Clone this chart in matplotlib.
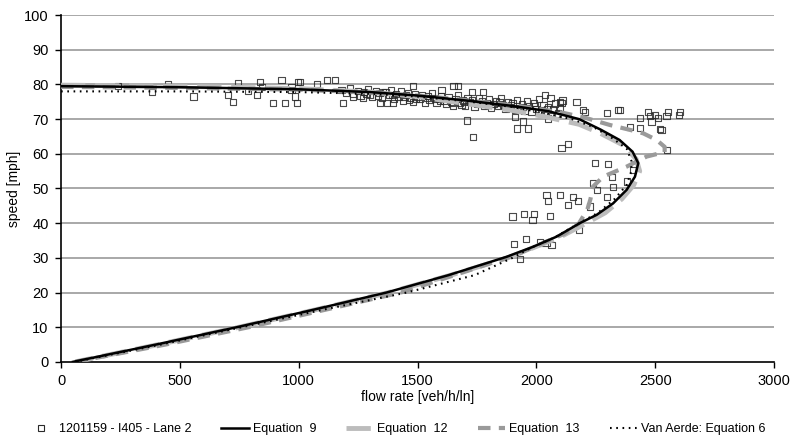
import numpy as np
import matplotlib
matplotlib.use("Agg")
import matplotlib.pyplot as plt
from matplotlib.lines import Line2D

plt.rcParams['font.family'] = ['Liberation Sans', 'DejaVu Sans']

# observed detector data (flow veh/h/ln, speed mph)
obs_flow = [241, 382, 451, 557, 704, 725, 746, 788, 823, 837, 844, 893, 942, 928, 970,
            998, 984, 992, 1005, 1076, 1118, 1153, 970, 1188, 1272, 1342, 1370, 1482,
            1651, 1672, 1601, 1728, 1777, 1230, 1398,
            1180, 1200, 1215, 1230, 1250, 1260, 1275, 1290, 1300, 1310, 1325, 1340, 1350,
            1365, 1380, 1390, 1400, 1410, 1420, 1430, 1440, 1450, 1460, 1470, 1480, 1490,
            1500, 1510, 1520, 1530, 1540, 1550, 1560, 1570, 1580, 1590, 1600, 1610, 1620,
            1630, 1640, 1650, 1660, 1670, 1680, 1690, 1700, 1710, 1720, 1730, 1740, 1750,
            1760, 1770, 1780, 1790, 1800, 1810, 1820, 1830, 1840, 1850, 1860, 1870, 1880,
            1890, 1900, 1910, 1920, 1930, 1940, 1950, 1960, 1970, 1980, 1990, 2000, 2010,
            2020, 2030, 2040, 2050, 2060, 2070, 2080, 2090, 2100, 2110,
            1285, 1335, 1395, 1445, 1495, 1545, 1595, 1645, 1695, 1745, 1795, 1845, 1895,
            1945, 1995, 2045, 1355, 1465, 1575, 1685,
            1707, 1735, 1917, 1945, 1966, 1910, 2050, 2036, 2099, 2169, 2106, 2197, 2204,
            2296, 2352, 2345,
            2436, 2471, 2478, 2499, 2513, 2520, 2485, 2436, 2394, 2555, 2548, 2605, 2600,
            2527, 2550,
            2106, 2134, 2247, 2303, 2408, 2317, 2240, 2254, 2296, 2323, 2043, 2050, 2099,
            2155, 2134, 2176, 2225, 1900, 1948, 1991, 1984, 2057, 2179, 1906, 1955, 2064,
            1931, 2015, 2380, 2043]
obs_speed = [79.5, 77.9, 80.1, 76.5, 76.9, 75.0, 80.3, 78.2, 76.9, 80.8, 79.3, 74.7, 74.7, 81.3, 78.4,
             80.8, 76.5, 74.6, 80.8, 80.1, 81.3, 81.3, 79.3, 74.6, 76.0, 74.6, 74.6, 79.5,
             79.5, 79.5, 78.4, 77.9, 77.9, 76.5, 74.6,
             78.5, 77.6, 78.9, 77.2, 78.1, 76.8, 77.9, 78.6, 77.1, 76.4, 78.0, 77.5, 76.2,
             77.8, 76.9, 78.3, 75.8, 77.2, 76.5, 78.0, 75.4, 76.9, 77.6, 76.1, 75.0, 77.3,
             76.4, 75.7, 77.0, 74.8, 76.2, 75.5, 77.4, 76.0, 74.6, 75.8, 76.7, 75.2, 74.3,
             76.3, 75.0, 73.9, 75.7, 76.8, 74.6, 75.4, 73.7, 76.0, 74.9, 75.6, 73.4, 74.3,
             76.2, 75.1, 73.9, 74.7, 75.8, 73.2, 74.4, 75.3, 73.8, 76.0, 74.1, 72.9, 75.0,
             73.6, 74.5, 72.6, 75.6, 73.3, 74.2, 72.4, 75.1, 73.7, 72.1, 74.6, 73.0, 75.8,
             72.5, 74.0, 71.9, 73.4, 76.2, 72.8, 74.5, 71.6, 73.2, 75.4,
             77.4, 76.6, 77.0, 76.3, 75.9, 76.7, 75.4, 74.8, 75.1, 74.6, 74.0, 74.8, 73.9,
             73.5, 73.8, 72.9, 77.9, 75.6, 75.9, 74.2,
             69.6, 64.9, 67.3, 69.3, 67.3, 70.7, 70.2, 76.9, 75.0, 75.0, 74.7, 72.6, 72.1,
             71.7, 72.6, 72.6,
             70.4, 72.1, 70.9, 71.2, 70.4, 67.1, 69.3, 67.5, 67.8, 72.1, 71.0, 72.1, 71.2,
             66.9, 61.1,
             61.6, 62.8, 57.4, 57.0, 55.3, 53.4, 51.5, 49.6, 47.6, 50.5, 48.1, 46.4, 48.1,
             47.6, 45.2, 46.5, 44.8, 41.9, 42.7, 42.7, 40.9, 42.1, 38.0, 34.0, 35.4, 33.7,
             29.6, 34.4, 52.0, 34.2]

# fitted models (flow, speed)
eq9_flow = [0, 500, 1000, 1300, 1500, 1700, 1900, 2050, 2180, 2270, 2350, 2405, 2429,
            2415, 2380, 2323, 2254, 2183, 2085, 1987, 1875, 1630, 1370, 1060, 740, 400, 50]
eq9_speed = [79.5, 79.2, 78.6, 77.8, 76.8, 75.4, 73.8, 72.3, 70.0, 67.0, 64.0, 60.6, 57.3,
             53.4, 49.6, 45.7, 42.4, 40.0, 36.1, 33.2, 30.3, 25, 20, 15, 10, 5, 0]

eq12_flow = [0, 500, 1000, 1300, 1500, 1700, 1900, 2050, 2180, 2270, 2366, 2420, 2435,
             2410, 2360, 2290, 2210, 2100, 1990, 1880, 1640, 1380, 1070, 750, 410, 60]
eq12_speed = [79.8, 79.5, 78.8, 77.8, 76.5, 74.5, 72.5, 70.5, 68.5, 65.9, 62.5, 58.5, 55,
              51, 47, 43, 40, 36, 33, 30, 25, 20, 15, 10, 5, 0]

eq13_flow = [0, 500, 1000, 1300, 1500, 1700, 1900, 2100, 2200, 2310, 2400, 2450, 2506,
             2540, 2540, 2464, 2380, 2281, 2238, 2228, 2215, 2180, 2120, 2020, 1920, 1700,
             1430, 1110, 790, 440, 60]
eq13_speed = [79.3, 79.0, 78.5, 77.7, 76.8, 75.5, 74.0, 72.0, 70.5, 68.3, 66.8, 65.9, 64.0,
              62.0, 60.5, 59.2, 56.3, 53.4, 50.5, 47, 44, 40, 37, 34, 31, 26,
              20, 15, 10, 5, 0]

va_flow = [0, 500, 1000, 1300, 1500, 1700, 1900, 2050, 2150, 2238, 2320, 2380, 2400,
           2400, 2380, 2330, 2260, 2180, 2080, 1980, 1900, 1740, 1455, 1100, 760, 420, 60]
va_speed = [78.0, 78.0, 77.8, 77.3, 76.5, 75.2, 73.5, 71.5, 70.0, 67.8, 64.5, 61.5, 58,
            55, 51, 47, 43, 40, 36, 33, 30, 25, 20, 15, 10, 5, 0]

labels = ['1201159 - I405 - Lane 2', 'Equation  9', 'Equation  12',
          'Equation  13', 'Van Aerde: Equation 6']

fig = plt.figure(figsize=(7.93, 4.44), dpi=100)
ax = fig.add_axes([0.077, 0.185, 0.899, 0.781])

for yv in range(10, 101, 10):
    ax.axhline(yv, color='#a8a8a8', lw=1.4, zorder=0)

ax.scatter(obs_flow, obs_speed, marker='s', s=20, facecolors='none',
           edgecolors='#2a2a2a', linewidths=0.8, alpha=0.85, zorder=2)
ax.plot(eq12_flow, eq12_speed, color='#bcbcbc', lw=3.5, dashes=(5, 2), zorder=3)
ax.plot(eq13_flow, eq13_speed, color='#9a9a9a', lw=3, dashes=(3, 2), zorder=3)
ax.plot(eq9_flow, eq9_speed, color='black', lw=1.8, zorder=4)
ax.plot(va_flow, va_speed, color='black', lw=1.5, dashes=(0.8, 2.2), zorder=5)

ax.set_xlim(0, 3000)
ax.set_ylim(0, 100)
ax.set_xticks(np.arange(0, 3001, 500))
ax.set_yticks(np.arange(0, 101, 10))
for s in ['top', 'right']:
    ax.spines[s].set_visible(False)
ax.spines['left'].set_linewidth(1.2)
ax.spines['bottom'].set_linewidth(1.2)
ax.tick_params(direction='out', length=4, width=1, labelsize=10.5, pad=5)
ax.set_xlabel('flow rate [veh/h/ln]', fontsize=10, labelpad=1)
ax.set_ylabel('speed [mph]', fontsize=10, labelpad=2)

handles = [
    Line2D([], [], marker='s', ls='none', mfc='none', mec='#2a2a2a', ms=4, mew=0.8),
    Line2D([], [], color='black', lw=1.8),
    Line2D([], [], color='#bcbcbc', lw=3.5, dashes=(5, 2)),
    Line2D([], [], color='#9a9a9a', lw=3, dashes=(3, 2)),
    Line2D([], [], color='black', lw=1.5, dashes=(0.8, 2.2)),
]
fig.legend(handles, labels, loc='lower center', bbox_to_anchor=(0.5, -0.005), ncol=5,
           frameon=False, fontsize=9, handlelength=2.2, columnspacing=2.4, handletextpad=0.3)

fig.savefig('out.png', dpi=100)
